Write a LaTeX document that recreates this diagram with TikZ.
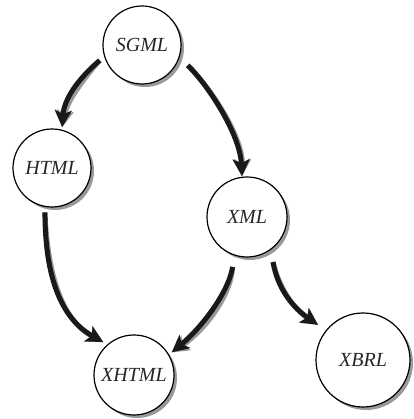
\documentclass[tikz,border=0pt]{standalone}
\usepackage{fontspec}
\setmainfont{Liberation Serif}
\usetikzlibrary{calc,arrows.meta,shadows}
\tikzset{
  lang/.style={circle,draw=black,line width=1.2pt,fill=white,inner sep=0pt,outer sep=0pt,
    font=\fontsize{20}{22}\selectfont\itshape,text=black!85,
    drop shadow={shadow xshift=3pt,shadow yshift=-3pt,fill=black!40,opacity=1}},
  conn/.style={line width=5pt,-{Stealth[length=17pt,width=17pt,inset=4pt]}},
}
\begin{document}
\begin{tikzpicture}[x=1pt,y=1pt]
\useasboundingbox (0,0) rectangle (413,419);
\node[lang,minimum size=78pt] (s) at (142,374) {SGML};
\node[lang,minimum size=78pt] (h) at (52,251) {HTML};
\node[lang,minimum size=80pt] (x) at (247,202) {XML};
\node[lang,minimum size=80pt] (xh) at (134,44) {XHTML};
\node[lang,minimum size=94pt] (xb) at (363,59) {XBRL};
\foreach \dx/\dy/\col in {3/-3/black!40, 0/0/black!90}{
\begin{scope}[xshift=\dx pt,yshift=\dy pt]
\draw[conn,draw=\col] ($(s)+(200:45)$) .. controls (78,340) and (64,320) .. ($(h)+(76:42)$);
\draw[conn,draw=\col] ($(s)+(336:50)$) .. controls (208,334) and (240,285) .. ($(x)+(97:41)$);
\draw[conn,draw=\col] ($(h)+(261:45)$) .. controls (45,140) and (62,100) .. ($(xh)+(133:45)$);
\draw[conn,draw=\col] ($(x)+(254:52)$) .. controls (228,125) and (200,90) .. ($(xh)+(31:44)$);
\draw[conn,draw=\col] ($(x)+(300:52)$) .. controls (278,128) and (295,110) .. ($(xb)+(142:57)$);
\end{scope}}
\end{tikzpicture}
\end{document}
